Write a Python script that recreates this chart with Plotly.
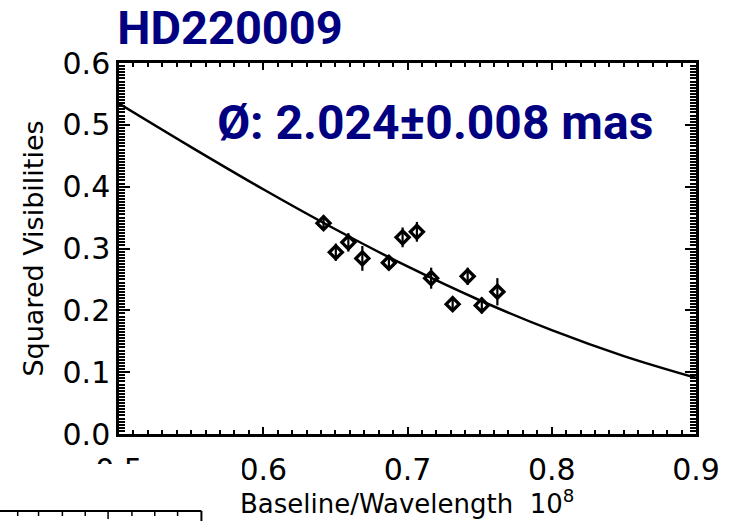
import plotly.graph_objects as go

# ---- data ----
baseline = [0.6418, 0.6503, 0.6590, 0.6687, 0.6871, 0.6966, 0.7065, 0.7164, 0.7313, 0.7417, 0.7515, 0.7623]
vis2 = [0.341, 0.294, 0.310, 0.284, 0.277, 0.318, 0.327, 0.252, 0.210, 0.255, 0.208, 0.230]
vis2_err = [0.010, 0.014, 0.015, 0.020, 0.010, 0.016, 0.016, 0.017, 0.011, 0.014, 0.013, 0.022]

# uniform-disk fit curve (diameter 2.024 mas)
model_x = [0.50, 0.55, 0.60, 0.65, 0.70, 0.75, 0.80, 0.85, 0.90]
model_y = [0.5344, 0.4640, 0.3958, 0.3311, 0.2709, 0.2163, 0.1679, 0.1260, 0.0908]

x_range = [0.5, 0.9]
y_range = [0.0, 0.6]

title_text = "HD220009"
diam_text = "Ø: 2.024±0.008 mas"
x_title = "Baseline/Wavelength  10<sup>8</sup>"
y_title = "Squared Visibilities"
navy = "#000080"

fig = go.Figure()
fig.add_trace(go.Scatter(
    x=model_x, y=model_y, mode="lines",
    line=dict(color="black", width=2.5, shape="spline"),
    showlegend=False, hoverinfo="skip"))
fig.add_trace(go.Scatter(
    x=baseline, y=vis2, mode="markers",
    marker=dict(symbol="diamond-open", size=10, color="black", line=dict(color="black", width=3.3)),
    error_y=dict(type="data", array=vis2_err, visible=True, color="black", thickness=2.2, width=0),
    showlegend=False))

tickfont = dict(family="DejaVu Sans", size=30, color="black")

fig.update_xaxes(
    range=x_range, tickmode="linear", tick0=0.5, dtick=0.1, tickformat=".1f",
    showline=True, linecolor="black", linewidth=2.5, mirror="allticks",
    ticks="inside", ticklen=7, tickwidth=2, tickcolor="black",
    minor=dict(tickmode="linear", tick0=0.5, dtick=0.01, ticks="inside", ticklen=4, tickwidth=1.5, tickcolor="black"),
    showgrid=False, zeroline=False, tickfont=tickfont, ticklabelstandoff=7)
fig.update_yaxes(
    range=y_range, tickmode="linear", tick0=0.0, dtick=0.1, tickformat=".1f",
    showline=True, linecolor="black", linewidth=2.5, mirror="allticks",
    ticks="inside", ticklen=11, tickwidth=2, tickcolor="black",
    minor=dict(tickmode="linear", tick0=0.0, dtick=0.005, ticks="inside", ticklen=6, tickwidth=1.5, tickcolor="black"),
    showgrid=False, zeroline=False, tickfont=tickfont, ticklabelstandoff=0,
    title=dict(text=y_title,
               font=dict(family="DejaVu Sans", size=27, color="black"), standoff=12))

L, B, W, H = 119.0, 434.0, 581.0, 371.0
def px(xp):
    return (xp - L) / W
def py(yp):
    return (B - yp) / H

fig.add_annotation(text=f"<b>{diam_text}</b>", xref="paper", yref="paper",
                   x=0.548, y=0.84, xanchor="center", yanchor="middle", showarrow=False,
                   font=dict(family="Roboto", size=48, color=navy))

# white patch and fragment of a neighbouring panel (cropped figure)
shapes = [dict(type="rect", xref="paper", yref="paper", x0=px(-5), x1=px(243), y0=py(464), y1=py(530),
               fillcolor="white", line=dict(width=0), layer="above"),
          dict(type="line", xref="paper", yref="paper", x0=px(-5), x1=px(202), y0=py(511), y1=py(511),
               line=dict(color="black", width=2), layer="above"),
          dict(type="line", xref="paper", yref="paper", x0=px(202), x1=px(202), y0=py(511), y1=py(530),
               line=dict(color="black", width=2), layer="above")]
for tx in [17, 38, 62, 85, 108, 132, 155, 178]:
    ln = 8 if tx == 108 else 5
    shapes.append(dict(type="line", xref="paper", yref="paper", x0=px(tx), x1=px(tx), y0=py(511), y1=py(511 + ln),
                       line=dict(color="black", width=1.5), layer="above"))
fig.update_layout(shapes=shapes)

# x-axis title (placed as text below the tick labels)
fig.add_annotation(text=x_title, xref="paper", yref="paper",
                   x=px(409), y=py(502), xanchor="center", yanchor="middle", showarrow=False,
                   font=dict(family="DejaVu Sans", size=26, color="black"))

fig.update_layout(
    width=732, height=521,
    margin=dict(l=119, r=32, t=63, b=87),
    paper_bgcolor="white", plot_bgcolor="white",
    title=dict(text=f"<b>{title_text}</b>", x=230 / 732, xanchor="center", xref="container",
               y=1 - 28 / 521, yanchor="middle", yref="container",
               font=dict(family="Roboto", size=47, color=navy)),
)

fig.write_html("out.html")
